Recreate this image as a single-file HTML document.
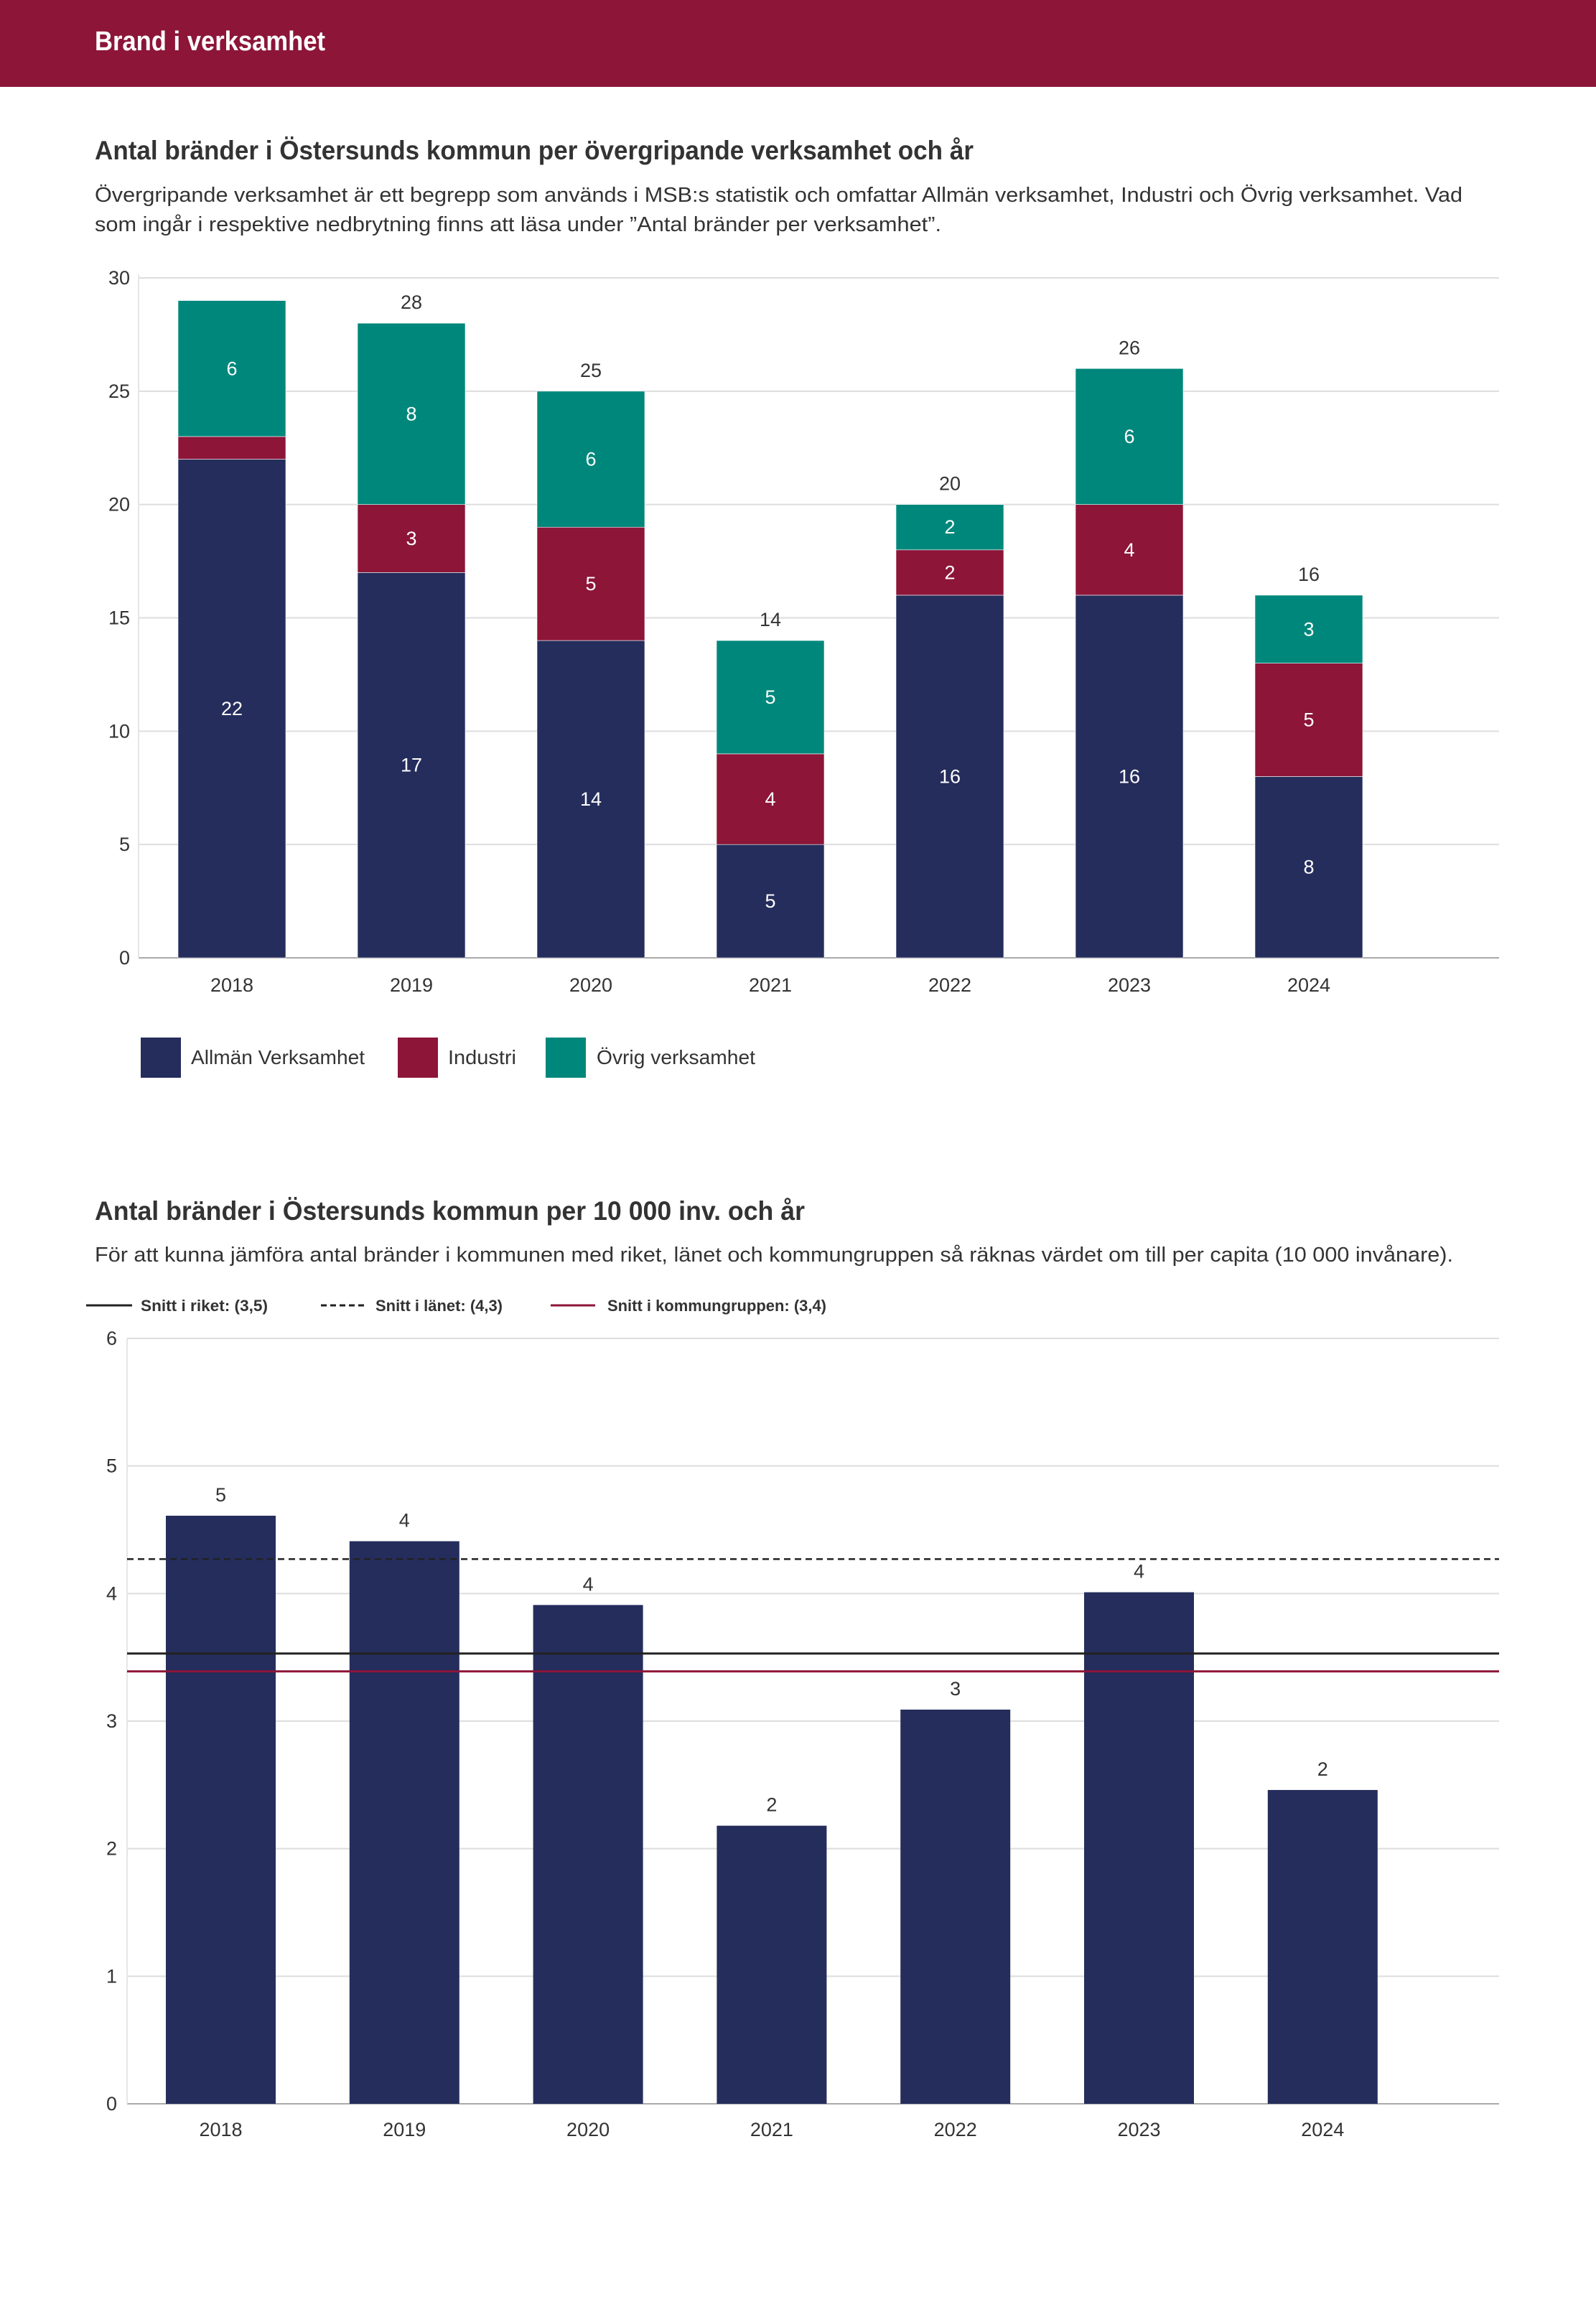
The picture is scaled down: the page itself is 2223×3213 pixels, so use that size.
<!DOCTYPE html>
<html><head><meta charset="utf-8"><style>
html,body{margin:0;padding:0;background:#fff}
svg{display:block;font-family:"Liberation Sans",sans-serif}
</style></head><body>
<svg id="s" width="2223" height="3213" viewBox="0 0 2223 3213" xmlns="http://www.w3.org/2000/svg">
<rect x="0" y="0" width="2223" height="121" fill="#8c1538"/>
<text x="132" y="70" font-size="38" font-weight="bold" fill="#fff" textLength="321" lengthAdjust="spacingAndGlyphs">Brand i verksamhet</text>
<text x="132" y="222" font-size="37" font-weight="bold" fill="#333" textLength="1224" lengthAdjust="spacingAndGlyphs">Antal bränder i Östersunds kommun per övergripande verksamhet och år</text>
<text x="132" y="281" font-size="29" fill="#333" textLength="1905" lengthAdjust="spacingAndGlyphs">Övergripande verksamhet är ett begrepp som används i MSB:s statistik och omfattar Allmän verksamhet, Industri och Övrig verksamhet. Vad</text>
<text x="132" y="322" font-size="29" fill="#333" textLength="1179" lengthAdjust="spacingAndGlyphs">som ingår i respektive nedbrytning finns att läsa under ”Antal bränder per verksamhet”.</text>
<g id="c1"></g>
<rect x="196" y="1445" width="56" height="56" fill="#252d5c"/>
<text x="266" y="1482" font-size="28" fill="#333" textLength="242" lengthAdjust="spacingAndGlyphs">Allmän Verksamhet</text>
<rect x="554" y="1445" width="56" height="56" fill="#8c1538"/>
<text x="624" y="1482" font-size="28" fill="#333" textLength="95" lengthAdjust="spacingAndGlyphs">Industri</text>
<rect x="760" y="1445" width="56" height="56" fill="#00877b"/>
<text x="831" y="1482" font-size="28" fill="#333" textLength="221" lengthAdjust="spacingAndGlyphs">Övrig verksamhet</text>

<text x="132" y="1699" font-size="37" font-weight="bold" fill="#333" textLength="989" lengthAdjust="spacingAndGlyphs">Antal bränder i Östersunds kommun per 10 000 inv. och år</text>
<text x="132" y="1757" font-size="29" fill="#333" textLength="1892" lengthAdjust="spacingAndGlyphs">För att kunna jämföra antal bränder i kommunen med riket, länet och kommungruppen så räknas värdet om till per capita (10 000 invånare).</text>
<line x1="120" y1="1818" x2="184" y2="1818" stroke="#222" stroke-width="3"/>
<text x="196" y="1826" font-size="22" font-weight="bold" fill="#333" textLength="177" lengthAdjust="spacingAndGlyphs">Snitt i riket: (3,5)</text>
<line x1="447" y1="1818" x2="510" y2="1818" stroke="#222" stroke-width="3" stroke-dasharray="8,5"/>
<text x="523" y="1826" font-size="22" font-weight="bold" fill="#333" textLength="177" lengthAdjust="spacingAndGlyphs">Snitt i länet: (4,3)</text>
<line x1="767" y1="1818" x2="829" y2="1818" stroke="#8c1538" stroke-width="3"/>
<text x="846" y="1826" font-size="22" font-weight="bold" fill="#333" textLength="305" lengthAdjust="spacingAndGlyphs">Snitt i kommungruppen: (3,4)</text>
<g id="c2"></g>
</svg>
<script>
const years = ["2018","2019","2020","2021","2022","2023","2024"];
const allman = [22,17,14,5,16,16,8];
const industri = [1,3,5,4,2,4,5];
const ovrig = [6,8,6,5,2,6,3];
const totalLabels = ["","28","25","14","20","26","16"];
const ticks1 = [0,5,10,15,20,25,30];
const perCapita = [4.61,4.41,3.91,2.18,3.09,4.01,2.46];
const perCapitaLabels = ["5","4","4","2","3","4","2"];
const ticks2 = [0,1,2,3,4,5,6];
const refRiket = 3.53;
const refLanet = 4.27;
const refKommungrupp = 3.39;

const NS="http://www.w3.org/2000/svg";
function mk(p,tag,a,txt){const e=document.createElementNS(NS,tag);for(const k in a)e.setAttribute(k,a[k]);if(txt!==undefined)e.textContent=txt;p.appendChild(e);return e;}

// Chart 1
const c1=document.getElementById('c1');
const y1=v=>1334-v*(947/30);
const x1=i=>323+250*i;
const bw1=150;
ticks1.forEach(t=>{
  const g=mk(c1,'line',{x1:193,x2:2088,y1:y1(t),y2:y1(t),stroke:t===0?'#aaa':'#ddd','stroke-width':2});
  
  
  const l=mk(c1,'text',{x:181,y:y1(t)+9,'font-size':27,fill:'#333','text-anchor':'end'},String(t));
  
  
});
const ax1=mk(c1,'line',{x1:193,x2:193,y1:y1(30)-5,y2:y1(0),stroke:'#e6e6e6','stroke-width':2});


const series=[[allman,'#252d5c','allman'],[industri,'#8c1538','industri'],[ovrig,'#00877b','ovrig']];
years.forEach((yr,i)=>{
  let base=0;
  series.forEach(([arr,col,nm])=>{
    const v=arr[i];
    const r=mk(c1,'rect',{x:x1(i)-bw1/2,y:y1(base+v),width:bw1,height:y1(base)-y1(base+v),fill:col,stroke:'#fff','stroke-width':0.6});
    
    
    if(v>=2){
      const t=mk(c1,'text',{x:x1(i),y:y1(base+v/2)+9,'font-size':27,fill:'#fff','text-anchor':'middle'},String(v));
      
      
    }
    base+=v;
  });
  if(totalLabels[i]){
    const t=mk(c1,'text',{x:x1(i),y:y1(base)-20,'font-size':27,fill:'#333','text-anchor':'middle'},totalLabels[i]);
    
    
  }
  const xl=mk(c1,'text',{x:x1(i),y:1381,'font-size':27,fill:'#333','text-anchor':'middle'},yr);
  
  
});

// Chart 2
const c2=document.getElementById('c2');
const y2=v=>2930-v*(1066/6);
const x2=i=>307.5+255.8*i;
const bw2=153;
ticks2.forEach(t=>{
  const g=mk(c2,'line',{x1:177,x2:2088,y1:y2(t),y2:y2(t),stroke:t===0?'#aaa':'#ddd','stroke-width':2});
  
  
  const l=mk(c2,'text',{x:163,y:y2(t)+9,'font-size':27,fill:'#333','text-anchor':'end'},String(t));
  
  
});
const ax2=mk(c2,'line',{x1:177,x2:177,y1:y2(6),y2:y2(0),stroke:'#e6e6e6','stroke-width':2});


years.forEach((yr,i)=>{
  const r=mk(c2,'rect',{x:x2(i)-bw2/2,y:y2(perCapita[i]),width:bw2,height:y2(0)-y2(perCapita[i]),fill:'#252d5c'});
  
  
  const t=mk(c2,'text',{x:x2(i),y:y2(perCapita[i])-20,'font-size':27,fill:'#333','text-anchor':'middle'},perCapitaLabels[i]);
  
  
  const xl=mk(c2,'text',{x:x2(i),y:2975,'font-size':27,fill:'#333','text-anchor':'middle'},yr);
  
  
});
const l1=mk(c2,'line',{x1:177,x2:2088,y1:y2(refLanet),y2:y2(refLanet),stroke:'#222','stroke-width':2.5,'stroke-dasharray':'9,6'});


const l2=mk(c2,'line',{x1:177,x2:2088,y1:y2(refRiket),y2:y2(refRiket),stroke:'#222','stroke-width':3});


const l3=mk(c2,'line',{x1:177,x2:2088,y1:y2(refKommungrupp),y2:y2(refKommungrupp),stroke:'#8c1538','stroke-width':3});


</script>
</body></html>
